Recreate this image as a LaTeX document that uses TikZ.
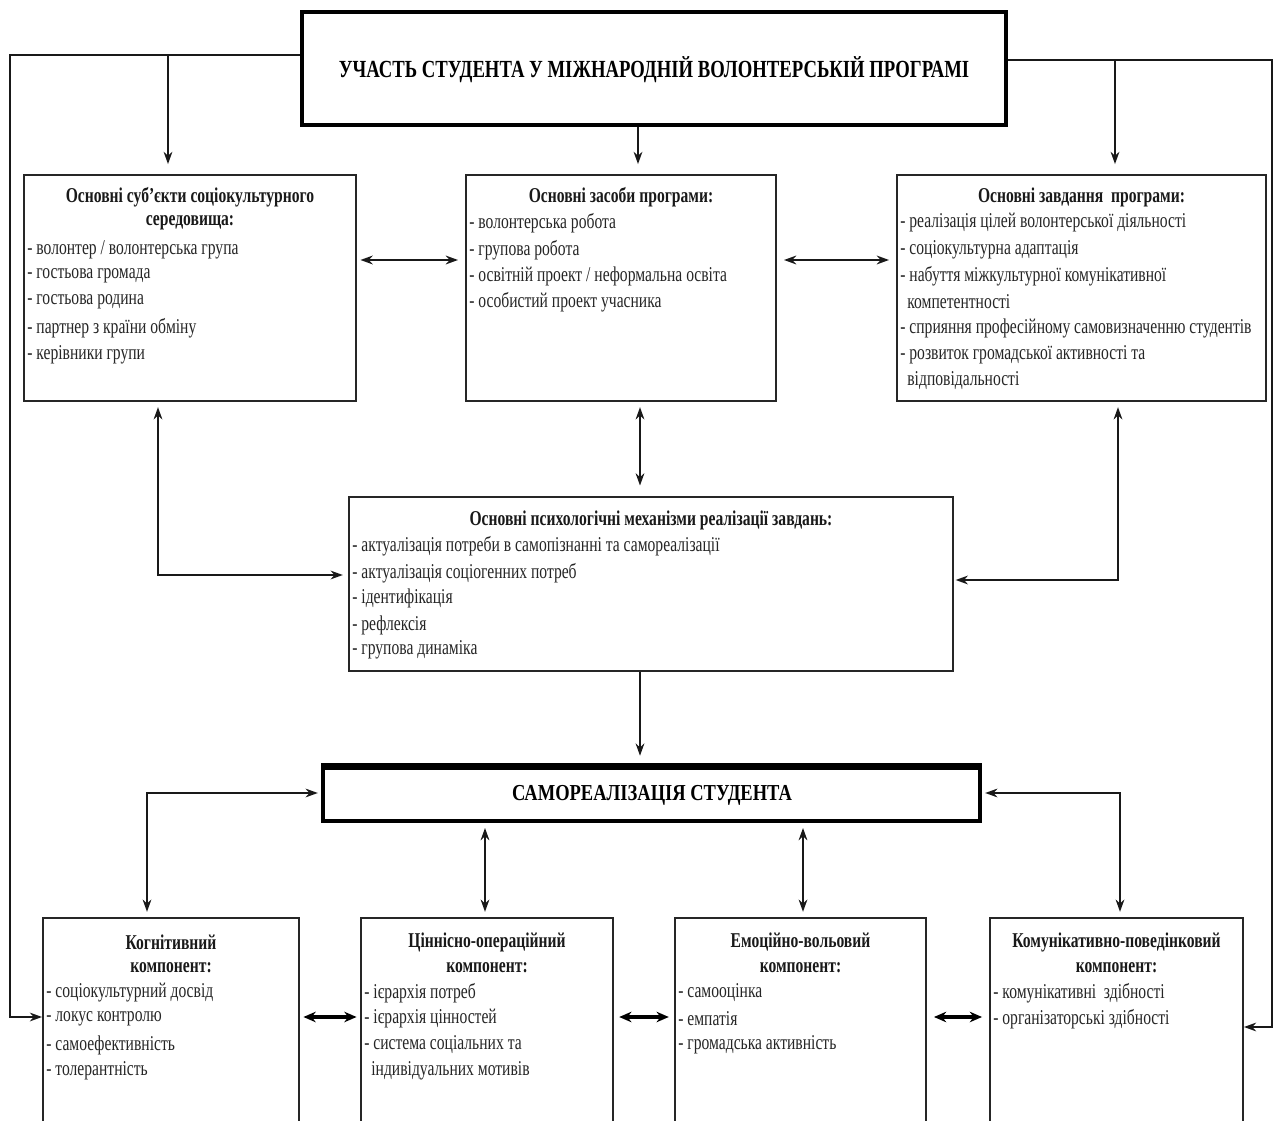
\documentclass[tikz,border=0pt]{standalone}
\usepackage{fontspec}
\setmainfont{Liberation Serif}
\newfontfamily\itemfont{Liberation Serif}[FakeStretch=0.74]
\newfontfamily\headfont{Liberation Serif}[FakeStretch=0.74]
\newfontfamily\titlefont{Liberation Serif}[FakeStretch=0.76]
\newfontfamily\selffont{Liberation Serif}[FakeStretch=0.81]
\usetikzlibrary{arrows.meta}
\tikzset{
  box/.style={draw=black!85, line width=1.1pt, inner sep=0pt},
  bigbox/.style={draw=black, line width=2.6pt, inner sep=0pt},
  it/.style={anchor=west, inner sep=0pt, text=black!85, font=\itemfont\fontsize{12}{13}\selectfont},
  hd/.style={anchor=center, inner sep=0pt, text=black!90, font=\headfont\bfseries\fontsize{12}{13}\selectfont},
  ttl/.style={anchor=center, inner sep=0pt, font=\titlefont\bfseries\fontsize{14}{16}\selectfont},
  conn/.style={line width=0.9pt, draw=black!90},
  arr/.style={conn, -{Stealth[length=7pt,width=5pt]}},
  darr/.style={conn, {Stealth[length=7pt,width=5pt]}-{Stealth[length=7pt,width=5pt]}},
  tdarr/.style={line width=1.8pt, {Stealth[length=7pt,width=6pt]}-{Stealth[length=7pt,width=6pt]}},
}
\begin{document}
\begin{tikzpicture}[x=0.02cm, y=-0.02cm]
\useasboundingbox (0,0) rectangle (1282,1121);
\clip (0,0) rectangle (1282,1121);
\fill[white] (0,0) rectangle (1282,1121);

% ---------- boxes ----------
\node[bigbox, minimum width=14.08cm, minimum height=2.26cm] (top) at (654,68.5) {};
\node[ttl] (topT) at (654,70) {УЧАСТЬ СТУДЕНТА У МІЖНАРОДНІЙ ВОЛОНТЕРСЬКІЙ ПРОГРАМІ};

\node[box, minimum width=6.64cm, minimum height=4.52cm] (subj) at (190,288) {};
\node[box, minimum width=6.2cm, minimum height=4.52cm] (means) at (621,288) {};
\node[box, minimum width=7.38cm, minimum height=4.52cm] (task) at (1081.5,288) {};
\node[box, minimum width=12.08cm, minimum height=3.48cm] (mech) at (651,584) {};
\node[draw=black, line width=2pt, inner sep=0pt, minimum width=13.14cm, minimum height=1.06cm] (self) at (651.5,794.5) {};
\draw[line width=3.5pt] (self.north west) -- (self.north east);
\node[ttl, font=\selffont\bfseries\fontsize{13}{15}\selectfont] (selfT) at (652,795) {САМОРЕАЛІЗАЦІЯ СТУДЕНТА};

\node[box, minimum width=5.12cm, minimum height=4.44cm] (cog) at (171,1029) {};
\node[box, minimum width=5.04cm, minimum height=4.44cm] (val) at (487,1029) {};
\node[box, minimum width=5.02cm, minimum height=4.44cm] (emo) at (800.5,1029) {};
\node[box, minimum width=5.06cm, minimum height=4.44cm] (comm) at (1116.5,1029) {};

% ---------- texts: subjects ----------
\node[hd] (subjH1) at (190,197) {Основні суб’єкти соціокультурного};
\node[hd] (subjH2) at (190,223) {середовища:};
\node[it] (subj1) at (27,250) {- волонтер / волонтерська група};
\node[it] (subj2) at (27,276) {- гостьова громада};
\node[it] (subj3) at (27,302) {- гостьова родина};
\node[it] (subj4) at (27,328) {- партнер з країни обміну};
\node[it] (subj5) at (27,355) {- керівники групи};

% ---------- texts: means ----------
\node[hd] (meansH) at (621,197) {Основні засоби програми:};
\node[it] (means1) at (469,223) {- волонтерська робота};
\node[it] (means2) at (469,250) {- групова робота};
\node[it] (means3) at (469,276) {- освітній проект / неформальна освіта};
\node[it] (means4) at (469,302) {- особистий проект учасника};

% ---------- texts: tasks ----------
\node[hd] (taskH) at (1081.5,197) {Основні завдання\ \ програми:};
\node[it] (task1) at (900,223) {- реалізація цілей волонтерської діяльності};
\node[it] (task2) at (900,250) {- соціокультурна адаптація};
\node[it] (task3) at (900,276) {- набуття міжкультурної комунікативної};
\node[it] (task4) at (907,302) {компетентності};
\node[it] (task5) at (900,328) {- сприяння професійному самовизначенню студентів};
\node[it] (task6) at (900,355) {- розвиток громадської активності та};
\node[it] (task7) at (907,381) {відповідальності};

% ---------- texts: mechanisms ----------
\node[hd] (mechH) at (651,520) {Основні психологічні механізми реалізації завдань:};
\node[it] (mech1) at (352,546) {- актуалізація потреби в самопізнанні та самореалізації};
\node[it] (mech2) at (352,573) {- актуалізація соціогенних потреб};
\node[it] (mech3) at (352,598) {- ідентифікація};
\node[it] (mech4) at (352,625) {- рефлексія};
\node[it] (mech5) at (352,650) {- групова динаміка};

% ---------- texts: components ----------
\node[hd] (cogH1) at (171,942) {Когнітивний};
\node[hd] (cogH2) at (171,968) {компонент:};
\node[it] (cog1) at (46,993) {- соціокультурний досвід};
\node[it] (cog2) at (46,1019) {- локус контролю};
\node[it] (cog3) at (46,1045) {- самоефективність};
\node[it] (cog4) at (46,1071) {- толерантність};

\node[hd] (valH1) at (487,942) {Ціннісно-операційний};
\node[hd] (valH2) at (487,968) {компонент:};
\node[it] (val1) at (364,993) {- ієрархія потреб};
\node[it] (val2) at (364,1019) {- ієрархія цінностей};
\node[it] (val3) at (364,1045) {- система соціальних та};
\node[it] (val4) at (371,1071) {індивідуальних мотивів};

\node[hd] (emoH1) at (800.5,942) {Емоційно-вольовий};
\node[hd] (emoH2) at (800.5,968) {компонент:};
\node[it] (emo1) at (678,993) {- самооцінка};
\node[it] (emo2) at (678,1019) {- емпатія};
\node[it] (emo3) at (678,1045) {- громадська активність};

\node[hd] (commH1) at (1116.5,942) {Комунікативно-поведінковий};
\node[hd] (commH2) at (1116.5,968) {компонент:};
\node[it] (comm1) at (993,993) {- комунікативні\ \ здібності};
\node[it] (comm2) at (993,1019) {- організаторські здібності};

% ---------- helper coordinates ----------
\coordinate (Ltop) at (10,55);
\coordinate (Lbot) at (10,1017);
\coordinate (Rtop) at (1272,60);
\coordinate (Rbot) at (1272,1027);
\coordinate (aS) at (168,55);
\coordinate (aT) at (1115,60);
\coordinate (xC) at (638,0);
\coordinate (xM) at (640,0);
\coordinate (hA) at (0,260);
\coordinate (kL) at (158,575);
\coordinate (kR) at (1118,580);
\coordinate (sL) at (147,793);
\coordinate (sR) at (1120,793);
\coordinate (xV) at (485,0);
\coordinate (xE) at (803,0);
\coordinate (hB) at (0,1017);

% ---------- connectors ----------
\draw[arr] ([yshift=0.27cm]top.west) -- (Ltop) -- (Lbot) -- (Lbot -| cog.west);
\draw[arr] (aS) -- ([yshift=0.2cm]aS |- subj.north);
\draw[arr] ([yshift=0.17cm]top.east) -- (Rtop) -- (Rbot) -- (Rbot -| comm.east);
\draw[arr] (aT) -- ([yshift=0.2cm]aT |- task.north);
\draw[arr] (top.south -| xC) -- ([yshift=0.2cm]means.north -| xC);

\draw[darr, line width=1.2pt, shorten <=2pt, shorten >=4pt] (subj.east |- hA) -- (means.west |- hA);
\draw[darr, line width=1.2pt, shorten <=4pt, shorten >=4pt] (means.east |- hA) -- (task.west |- hA);
\draw[darr, shorten <=3pt, shorten >=6pt] (means.south -| xM) -- (mech.north -| xM);
\draw[darr, shorten <=3pt, shorten >=3pt] (subj.south -| kL) -- (kL) -- (mech.west |- kL);
\draw[darr, shorten <=3pt, shorten >=1pt] (task.south -| kR) -- (kR) -- (mech.east |- kR);
\draw[arr, shorten >=6pt] (mech.south -| xM) -- (self.north -| xM);

\draw[darr, shorten <=2pt, shorten >=3pt] (self.west |- sL) -- (sL) -- (cog.north -| sL);
\draw[darr, shorten <=2pt, shorten >=3pt] (self.east |- sR) -- (sR) -- (comm.north -| sR);
\draw[darr, shorten <=3pt, shorten >=3pt] (self.south -| xV) -- (val.north -| xV);
\draw[darr, shorten <=3pt, shorten >=3pt] (self.south -| xE) -- (emo.north -| xE);

\draw[tdarr, shorten <=2pt, shorten >=2pt] (cog.east |- hB) -- (val.west |- hB);
\draw[tdarr, shorten <=3pt, shorten >=3pt] (val.east |- hB) -- (emo.west |- hB);
\draw[tdarr, shorten <=4pt, shorten >=4pt] (emo.east |- hB) -- (comm.west |- hB);
\end{tikzpicture}
\end{document}
